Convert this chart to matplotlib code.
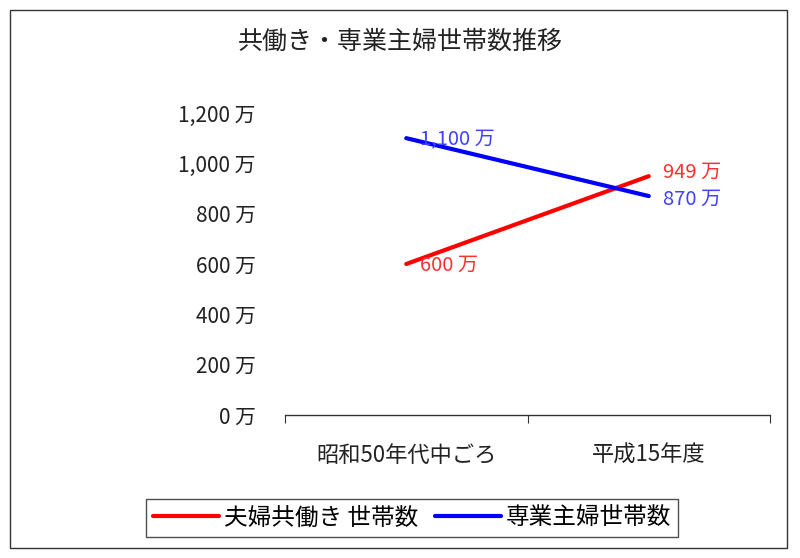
import matplotlib
matplotlib.use("Agg")
import matplotlib.pyplot as plt
from matplotlib.patches import Rectangle

plt.rcParams['font.family'] = ['Noto Sans CJK JP', 'DejaVu Sans']

title = "共働き・専業主婦世帯数推移"
categories = ["昭和50年代中ごろ", "平成15年度"]
series_names = ["夫婦共働き 世帯数", "専業主婦世帯数"]
dual_income = [600, 949]
housewife = [1100, 870]
yticks = [0, 200, 400, 600, 800, 1000, 1200]
ytick_labels = ["0 万", "200 万", "400 万", "600 万", "800 万", "1,000 万", "1,200 万"]
colors = ["#ff0000", "#0000ff"]
label_colors = ["#ff3030", "#4040ff"]

fig = plt.figure(figsize=(8, 5.58), dpi=100)
fig.patch.set_facecolor("white")

# outer border
fig.add_artist(Rectangle((10/800, 1-548/558), 777/800, 538/558, transform=fig.transFigure,
                         fill=False, edgecolor="#333333", linewidth=1.0))

ax = fig.add_axes([285/800, 1-415/558, 485/800, 302/558])
x = list(range(len(categories)))
l1, = ax.plot(x, dual_income, color=colors[0], linewidth=3.0, solid_capstyle="round")
l2, = ax.plot(x, housewife, color=colors[1], linewidth=3.0, solid_capstyle="round")

ax.set_xlim(-0.5, 1.5)
ax.set_ylim(0, 1200)
for s in ["top", "right", "left"]:
    ax.spines[s].set_visible(False)
ax.spines["bottom"].set_color("#333333")
ax.spines["bottom"].set_linewidth(1.0)

ax.set_yticks(yticks)
ax.set_yticklabels(ytick_labels, fontsize=15, color="#222222")
ax.tick_params(axis="y", length=0, pad=21)

ax.set_xticks([-0.5, 0.5, 1.5])
ax.set_xticklabels(["", "", ""])
ax.tick_params(axis="x", which="major", length=6, direction="out", color="#333333")
ax.set_xticks(x, minor=True)
ax.set_xticklabels(categories, minor=True, fontsize=16, color="#222222")
ax.tick_params(axis="x", which="minor", length=0, pad=21)

# data labels (end labels nudged apart slightly, as in the reference)
dy_offsets = {(0, 0): -1, (0, 1): 2.5, (1, 0): -1, (1, 1): -2.5}
for si, (vals, c) in enumerate([(dual_income, label_colors[0]), (housewife, label_colors[1])]):
    for xi, v in zip(x, vals):
        ax.annotate(f"{v:,} 万", (xi, v), xytext=(10, dy_offsets[(si, xi)]),
                    textcoords="offset points", ha="left", va="center",
                    fontsize=14.5, color=c)

fig.text(0.5, 1-42/558, title, ha="center", va="center", fontsize=18, color="#222222")

leg = fig.legend([l1, l2], series_names, loc="center", bbox_to_anchor=(412/800, 1-518/558),
                 ncol=2, frameon=True, fancybox=False, edgecolor="#222222", fontsize=17,
                 handlelength=2.8, handletextpad=0.2, columnspacing=0.7, borderpad=0.3,
                 borderaxespad=0)
leg.get_frame().set_linewidth(1.0)

fig.savefig("out.png", dpi=100)
